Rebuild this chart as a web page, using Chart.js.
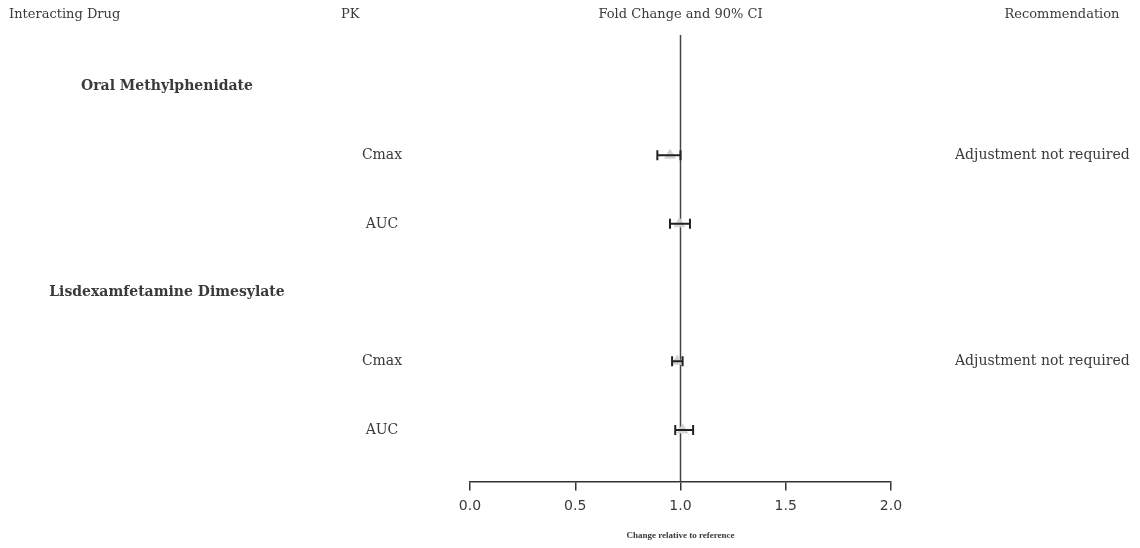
<!DOCTYPE html>
<html>
<head>
<meta charset="utf-8">
<script src="https://cdn.jsdelivr.net/npm/chart.js@4.4.1/dist/chart.umd.min.js"></script>
<style>
    body { margin: 0; background: #fff; }
    #wrap { width: 1140px; height: 548px; position: relative; }
</style>
</head>
<body>
<div id="wrap"><canvas id="forestChart"></canvas></div>
<script>
// data
const drugs = ["Oral Methylphenidate", "Lisdexamfetamine Dimesylate"];
const pkParams = ["Cmax", "AUC"];
const foldChange = [0.95, 0.995, 0.985, 1.01];
const ciLow = [0.89, 0.95, 0.96, 0.975];
const ciHigh = [1.00, 1.045, 1.01, 1.06];
const recommendations = ["Adjustment not required", "Adjustment not required"];
const xTicks = [0, 0.5, 1, 1.5, 2];
const headers = ["Interacting Drug", "PK", "Fold Change and 90% CI", "Recommendation"];

document.addEventListener("DOMContentLoaded", function () {
    // each drug takes one header row plus one row per PK parameter
    const points = [];
    drugs.forEach(function (drug, d) {
        pkParams.forEach(function (pk, p) {
            const i = d * pkParams.length + p;
            points.push({ x: foldChange[i], y: d * 3 + p + 2, lo: ciLow[i], hi: ciHigh[i] });
        });
    });

    const textColor = "#3a3a3a";
    const serif = "'DejaVu Serif', 'Liberation Serif', serif";

    const forestPlugin = {
        id: "forest",
        beforeDatasetsDraw(chart) {
            const ctx = chart.ctx;
            const xs = chart.scales.x;
            const area = chart.chartArea;
            const x1 = xs.getPixelForValue(1);
            ctx.save();
            ctx.strokeStyle = "#444";
            ctx.lineWidth = 1.5;
            ctx.beginPath();
            ctx.moveTo(x1, area.top);
            ctx.lineTo(x1, area.bottom);
            ctx.stroke();
            ctx.restore();
        },
        afterDatasetsDraw(chart) {
            const ctx = chart.ctx;
            const xs = chart.scales.x;
            const ys = chart.scales.y;
            ctx.save();
            ctx.strokeStyle = "#222";
            ctx.lineWidth = 2;
            points.forEach(function (pt) {
                const y = ys.getPixelForValue(pt.y);
                const a = xs.getPixelForValue(pt.lo);
                const b = xs.getPixelForValue(pt.hi);
                ctx.beginPath();
                ctx.moveTo(a, y);
                ctx.lineTo(b, y);
                ctx.moveTo(a, y - 5);
                ctx.lineTo(a, y + 5);
                ctx.moveTo(b, y - 5);
                ctx.lineTo(b, y + 5);
                ctx.stroke();
            });
            ctx.restore();
        },
        afterDraw(chart) {
            const ctx = chart.ctx;
            const ys = chart.scales.y;
            const xs = chart.scales.x;
            ctx.save();
            ctx.fillStyle = textColor;
            ctx.textBaseline = "middle";

            // column headers
            ctx.font = "13px " + serif;
            ctx.textAlign = "left";
            ctx.fillText(headers[0], 9, 15);
            ctx.fillText(headers[1], 341, 15);
            ctx.textAlign = "center";
            ctx.fillText(headers[2], xs.getPixelForValue(1), 15);
            ctx.fillText(headers[3], 1062, 15);

            drugs.forEach(function (drug, d) {
                const base = d * 3 + 1;
                ctx.font = "bold 14px " + serif;
                ctx.textAlign = "center";
                ctx.fillText(drug, 167, ys.getPixelForValue(base));
                pkParams.forEach(function (pk, p) {
                    const y = ys.getPixelForValue(base + p + 1);
                    ctx.font = "14px " + serif;
                    ctx.textAlign = "center";
                    ctx.fillText(pk, 382, y);
                });
                ctx.textAlign = "left";
                ctx.fillText(recommendations[d], 955, ys.getPixelForValue(base + 1));
            });
            ctx.restore();
        }
    };

    new Chart(document.getElementById("forestChart"), {
        type: "scatter",
        data: {
            datasets: [
                {
                    data: points,
                    pointStyle: "triangle",
                    pointRadius: 6,
                    pointBackgroundColor: "#d4d4d4",
                    pointBorderColor: "#d4d4d4",
                    borderWidth: 1
                }
            ]
        },
        options: {
            responsive: true,
            maintainAspectRatio: false,
            animation: false,
            layout: { padding: { top: 35, left: 470, right: 249, bottom: 7 } },
            plugins: {
                legend: { display: false },
                tooltip: { enabled: false }
            },
            scales: {
                x: {
                    type: "linear",
                    min: 0,
                    max: 2,
                    afterBuildTicks(axis) {
                        axis.ticks = xTicks.map(v => ({ value: v }));
                    },
                    ticks: {
                        color: textColor,
                        font: { family: "'DejaVu Sans', sans-serif", size: 14 },
                        padding: 8,
                        callback: v => Number(v).toFixed(1)
                    },
                    grid: {
                        drawOnChartArea: false,
                        tickLength: 9,
                        color: "#333",
                        lineWidth: 1.5
                    },
                    border: { color: "#333", width: 1.5 },
                    title: {
                        display: true,
                        text: "Change relative to reference",
                        color: textColor,
                        font: { family: "'Liberation Serif', serif", size: 9, weight: "bold" },
                        padding: { top: 7, bottom: 0 }
                    }
                },
                y: {
                    display: false,
                    reverse: true,
                    min: 0.25,
                    max: 6.75
                }
            }
        },
        plugins: [forestPlugin]
    });
});
</script>
</body>
</html>
